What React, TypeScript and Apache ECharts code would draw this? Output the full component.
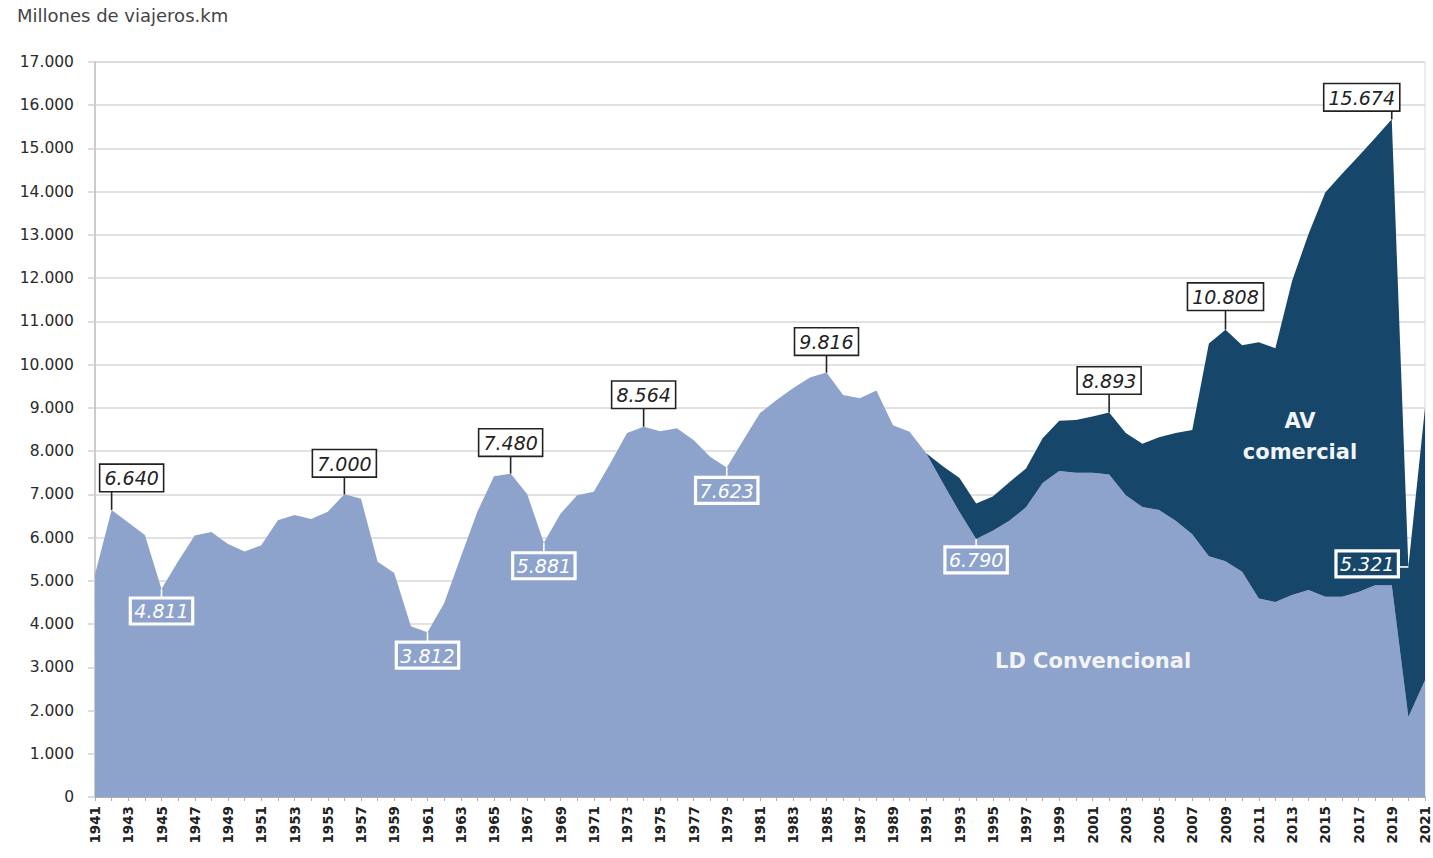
import React, { useEffect, useRef } from "react";
import * as echarts from "echarts";

const years: string[] = Array.from({ length: 81 }, (_, i) => String(1941 + i));

// LD Convencional (millones de viajeros.km)
const ldValues: number[] = [
  5150, 6640, 6350, 6060, 4811, 5450, 6050, 6130, 5850, 5680,
  5820, 6400, 6520, 6430, 6600, 7000, 6900, 5440, 5180, 3950,
  3812, 4480, 5550, 6600, 7420, 7480, 7000, 5881, 6550, 6980,
  7060, 7720, 8420, 8564, 8460, 8530, 8260, 7870, 7623, 8260,
  8880, 9180, 9460, 9700, 9816, 9300, 9220, 9400, 8600, 8450,
  7950, 7260, 6590, 5970, 6160, 6390, 6700, 7260, 7540, 7500,
  7500, 7460, 6980, 6710, 6640, 6390, 6080, 5570, 5450, 5210,
  4590, 4510, 4670, 4790, 4630, 4630, 4740, 4900, 4900, 1850,
  2700,
];

// AV comercial (millones de viajeros.km)
const avValues: (number | null)[] = [
  null, null, null, null, null, null, null, null, null, null,
  null, null, null, null, null, null, null, null, null, null,
  null, null, null, null, null, null, null, null, null, null,
  null, null, null, null, null, null, null, null, null, null,
  null, null, null, null, null, null, null, null, null, null,
  0, 390, 790, 820, 790, 890, 900, 1040, 1160, 1220,
  1300, 1433, 1440, 1460, 1680, 2030, 2410, 4920, 5358, 5240,
  5930, 5870, 7260, 8240, 9350, 9780, 10080, 10340, 10774, 3471,
  6300,
];

const annotationYears: string[] = [
  "1942", "1945", "1956", "1961", "1966", "1968", "1974",
  "1979", "1985", "1994", "2002", "2009", "2019", "2020",
];
const annotationValues: number[] = [
  6640, 4811, 7000, 3812, 7480, 5881, 8564,
  7623, 9816, 6790, 8893, 10808, 15674, 5321,
];

// layout of the annotation boxes (not data)
const annotationLayout: Record<string, { side: "above" | "below" | "left"; dx: number; lead: number; anchor?: "ld" }> = {
  "1942": { side: "above", dx: 20, lead: 19 },
  "1945": { side: "below", dx: 0, lead: 9 },
  "1956": { side: "above", dx: 0, lead: 18 },
  "1961": { side: "below", dx: 0, lead: 10 },
  "1966": { side: "above", dx: 0, lead: 18 },
  "1968": { side: "below", dx: 0, lead: 10 },
  "1974": { side: "above", dx: 0, lead: 19 },
  "1979": { side: "below", dx: 0, lead: 10 },
  "1985": { side: "above", dx: 0, lead: 18 },
  "1994": { side: "below", dx: 0, lead: 8, anchor: "ld" },
  "2002": { side: "above", dx: 0, lead: 19 },
  "2009": { side: "above", dx: 0, lead: 20 },
  "2019": { side: "above", dx: -30, lead: 9 },
  "2020": { side: "left", dx: 0, lead: 10 },
};

const fmt = (v: number) => String(v).replace(/\B(?=(\d{3})+(?!\d))/g, ".");

const LIGHT = "#8ea3cb";
const DARK = "#17466b";
const FONT = "DejaVu Sans";

export default function App() {
  const ref = useRef<HTMLDivElement>(null);

  useEffect(() => {
    document.body.style.margin = "0";
    if (!ref.current) return;
    const chart = echarts.init(ref.current, undefined, { renderer: "svg" });

    const annData = annotationYears.map((y, i) => {
      const idx = years.indexOf(y);
      const lay = annotationLayout[y];
      const anchor = lay.anchor === "ld" ? ldValues[idx] : ldValues[idx] + (avValues[idx] ?? 0);
      return [idx, anchor, i];
    });

    const option: any = {
      animation: false,
      backgroundColor: "#ffffff",
      grid: {
        left: 95,
        right: 8,
        top: 62,
        bottom: 61,
        show: true,
        borderColor: "#d9d9d9",
        borderWidth: 1,
      },
      graphic: [
        {
          type: "text",
          left: 17,
          top: 6,
          z: 100,
          style: { text: "Millones de viajeros.km", fontSize: 18, fontFamily: FONT, fill: "#444" },
        },
        {
          type: "text",
          x: 1300,
          y: 405,
          z: 100,
          style: {
            text: "AV\ncomercial",
            fontSize: 21,
            fontWeight: "bold",
            fontFamily: FONT,
            fill: "#f2f4f8",
            align: "center",
            lineHeight: 31,
          },
        },
        {
          type: "text",
          x: 995,
          y: 650,
          z: 100,
          style: {
            text: "LD Convencional",
            fontSize: 21,
            fontWeight: "bold",
            fontFamily: FONT,
            fill: "#f2f4f8",
          },
        },
      ],
      xAxis: {
        type: "category",
        data: years,
        boundaryGap: false,
        axisLine: { lineStyle: { color: "#a0a0a0", width: 1.5 } },
        axisTick: { show: true, interval: 0, length: 4, lineStyle: { color: "#b0b0b0" } },
        axisLabel: {
          interval: 1,
          rotate: 90,
          fontSize: 13.5,
          fontWeight: "bold",
          fontFamily: FONT,
          color: "#222",
          margin: 9,
        },
        splitLine: { show: false },
      },
      yAxis: {
        type: "value",
        min: 0,
        max: 17000,
        interval: 1000,
        axisLine: { show: true, lineStyle: { color: "#c0c0c0", width: 1.5 } },
        axisTick: { show: true, length: 7, lineStyle: { color: "#d0d0d0", width: 1.5 } },
        splitLine: { lineStyle: { color: "#d9d9d9", width: 1.5 } },
        axisLabel: {
          formatter: (v: number) => fmt(v),
          fontSize: 15.5,
          fontFamily: FONT,
          color: "#2a2a2a",
          margin: 21,
        },
      },
      series: [
        {
          name: "LD Convencional",
          type: "line",
          stack: "total",
          data: ldValues,
          symbol: "none",
          lineStyle: { width: 0 },
          areaStyle: { color: LIGHT, opacity: 1 },
          itemStyle: { color: LIGHT },
          z: 2,
        },
        {
          name: "AV comercial",
          type: "line",
          stack: "total",
          data: avValues,
          symbol: "none",
          lineStyle: { width: 0 },
          areaStyle: { color: DARK, opacity: 1 },
          itemStyle: { color: DARK },
          z: 2,
        },
        {
          name: "anotaciones",
          type: "custom",
          data: annData,
          silent: true,
          clip: false,
          z: 10,
          renderItem: (params: any, api: any) => {
            const i = api.value(2);
            const y = annotationYears[i];
            const lay = annotationLayout[y];
            const p = api.coord([api.value(0), api.value(1)]);
            const px = p[0];
            const py = p[1];
            const dark = lay.side === "above";
            const stroke = dark ? "#222" : "#ffffff";
            let line: any;
            let text: any;
            const baseStyle: any = {
              text: fmt(annotationValues[i]),
              fontSize: 19,
              fontStyle: "italic",
              fontFamily: FONT,
              fill: dark ? "#222" : "#ffffff",
              backgroundColor: dark ? "#ffffff" : "transparent",
              borderColor: stroke,
              borderWidth: 1.6,
              padding: [2, 4, 1, 4],
              lineHeight: 23,
            };
            if (lay.side === "above") {
              line = { x1: px, y1: py, x2: px, y2: py - lay.lead };
              text = { x: px + lay.dx, y: py - lay.lead, style: { ...baseStyle, align: "center", verticalAlign: "bottom" } };
            } else if (lay.side === "below") {
              line = { x1: px, y1: py, x2: px, y2: py + lay.lead };
              text = { x: px + lay.dx, y: py + lay.lead, style: { ...baseStyle, align: "center", verticalAlign: "top" } };
            } else {
              line = { x1: px, y1: py, x2: px - lay.lead, y2: py };
              text = { x: px - lay.lead, y: py - 3, style: { ...baseStyle, align: "right", verticalAlign: "middle" } };
            }
            return {
              type: "group",
              children: [
                { type: "line", shape: line, style: { stroke, lineWidth: 1.6 } },
                { type: "text", x: text.x, y: text.y, style: text.style },
              ],
            };
          },
        },
      ],
    };

    chart.setOption(option);
    return () => chart.dispose();
  }, []);

  return <div ref={ref} style={{ width: 1433, height: 858 }} />;
}
